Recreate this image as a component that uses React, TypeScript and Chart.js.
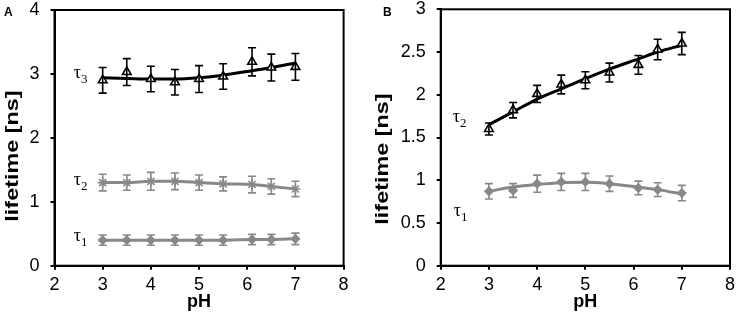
import React, { useEffect, useRef } from "react";
import { Chart, registerables } from "chart.js";
Chart.register(...registerables);

// ---- data ----
const phValues = [3, 3.5, 4, 4.5, 5, 5.5, 6.1, 6.5, 7];

// Panel A
const aTau3 = [2.9, 3.03, 2.92, 2.87, 2.92, 2.96, 3.19, 3.1, 3.11];
const aTau3Err = [0.2, 0.21, 0.2, 0.2, 0.21, 0.2, 0.22, 0.21, 0.21];
const aTau3Fit = [2.94, 2.93, 2.92, 2.92, 2.94, 2.98, 3.05, 3.1, 3.17];
const aTau2 = [1.3, 1.3, 1.32, 1.32, 1.3, 1.28, 1.27, 1.24, 1.2];
const aTau2Err = [0.13, 0.12, 0.14, 0.13, 0.12, 0.11, 0.13, 0.12, 0.12];
const aTau1 = [0.4, 0.4, 0.4, 0.4, 0.4, 0.4, 0.41, 0.41, 0.42];
const aTau1Err = [0.08, 0.08, 0.08, 0.08, 0.08, 0.08, 0.08, 0.08, 0.09];

// Panel B
const bTau2 = [1.6, 1.82, 2.01, 2.12, 2.17, 2.26, 2.35, 2.53, 2.6];
const bTau2Err = [0.07, 0.09, 0.1, 0.11, 0.1, 0.11, 0.11, 0.12, 0.13];
const bTau2Fit = [1.65, 1.8, 1.95, 2.07, 2.19, 2.3, 2.42, 2.5, 2.58];
const bTau1 = [0.87, 0.88, 0.96, 0.98, 0.98, 0.96, 0.91, 0.89, 0.85];
const bTau1Err = [0.09, 0.08, 0.1, 0.1, 0.1, 0.09, 0.08, 0.08, 0.09];
const bTau1Fit = [0.87, 0.92, 0.95, 0.97, 0.975, 0.96, 0.92, 0.89, 0.84];

const aYTicks = [0, 1, 2, 3, 4];
const bYTicks = [0, 0.5, 1, 1.5, 2, 2.5, 3];
const xTicks = [2, 3, 4, 5, 6, 7, 8];

const X_TITLE = "pH";
const Y_TITLE = "lifetime [ns]";

const BLACK = "#000000";
const GRAY = "#888888";
const SANS = "'Liberation Sans', Arial, sans-serif";
const SERIF = "'Liberation Serif', 'Times New Roman', serif";

const pts = (ys: number[]) => ys.map((y, i) => ({ x: phValues[i], y }));

const errorBarPlugin = {
  id: "errorBars",
  afterDatasetsDraw(chart: any) {
    const { ctx, scales } = chart;
    chart.data.datasets.forEach((ds: any, di: number) => {
      if (!ds.errors) return;
      if (!chart.isDatasetVisible(di)) return;
      ctx.save();
      ctx.strokeStyle = ds.borderColor;
      ctx.lineWidth = 1.6;
      ds.data.forEach((p: any, i: number) => {
        const e = ds.errors[i];
        const x = scales.x.getPixelForValue(p.x);
        const yTop = scales.y.getPixelForValue(p.y + e);
        const yBot = scales.y.getPixelForValue(p.y - e);
        ctx.beginPath();
        ctx.moveTo(x, yTop);
        ctx.lineTo(x, yBot);
        ctx.moveTo(x - 4, yTop);
        ctx.lineTo(x + 4, yTop);
        ctx.moveTo(x - 4, yBot);
        ctx.lineTo(x + 4, yBot);
        ctx.stroke();
      });
      ctx.restore();
    });
  },
};

const framePlugin = {
  id: "frame",
  afterDraw(chart: any) {
    const { ctx, chartArea: a } = chart;
    ctx.save();
    ctx.strokeStyle = BLACK;
    ctx.lineWidth = 2;
    ctx.strokeRect(a.left, a.top, a.right - a.left, a.bottom - a.top);
    ctx.restore();
  },
};

const tauLabelPlugin = {
  id: "tauLabels",
  afterDraw(chart: any, _args: any, opts: any) {
    const { ctx, scales } = chart;
    (opts.labels || []).forEach((l: any) => {
      const x = scales.x.getPixelForValue(l.x);
      const y = scales.y.getPixelForValue(l.y);
      ctx.save();
      ctx.fillStyle = BLACK;
      ctx.textBaseline = "alphabetic";
      ctx.textAlign = "left";
      ctx.font = `18px ${SERIF}`;
      ctx.fillText("τ", x, y + 4);
      const w = ctx.measureText("τ").width;
      ctx.font = `13px ${SERIF}`;
      ctx.fillText(l.sub, x + w, y + 9);
      ctx.restore();
    });
  },
};

const yTitlePlugin = {
  id: "yTitle",
  afterDraw(chart: any, _args: any, opts: any) {
    const { ctx } = chart;
    ctx.save();
    ctx.translate(opts.x, opts.y);
    ctx.rotate(-Math.PI / 2);
    ctx.scale(1.3, 1);
    ctx.fillStyle = BLACK;
    ctx.font = `bold 18px ${SANS}`;
    ctx.textAlign = "center";
    ctx.textBaseline = "middle";
    ctx.fillText(Y_TITLE, 0, 0);
    ctx.restore();
  },
};

function makeConfig(
  datasets: any[],
  yMax: number,
  yTicks: number[],
  padRight: number,
  padTop: number,
  yWidth: number,
  titlePos: { x: number; y: number },
  labels: any[]
) {
  return {
    type: "scatter" as const,
    data: { datasets },
    plugins: [errorBarPlugin, framePlugin, tauLabelPlugin, yTitlePlugin],
    options: {
      animation: false,
      responsive: false,
      maintainAspectRatio: false,
      layout: { padding: { left: 0, right: padRight, top: padTop, bottom: 0 } },
      plugins: {
        legend: { display: false },
        tooltip: { enabled: false },
        tauLabels: { labels },
        yTitle: titlePos,
      },
      scales: {
        x: {
          type: "linear",
          min: 2,
          max: 8,
          afterBuildTicks: (s: any) => {
            s.ticks = xTicks.map((v) => ({ value: v }));
          },
          ticks: {
            color: BLACK,
            font: { family: SANS, size: 18 },
            padding: 5,
            maxRotation: 0,
            callback: (v: any) => String(v),
          },
          grid: { drawOnChartArea: false, drawTicks: true, tickLength: 4, color: BLACK, lineWidth: 2 },
          border: { color: BLACK, width: 2 },
          title: {
            display: true,
            text: X_TITLE,
            color: BLACK,
            font: { family: SANS, size: 18, weight: "bold" },
            padding: { top: 0, bottom: 4 },
          },
          afterFit: (s: any) => {
            s.height = 51.3;
            s.paddingLeft = 0;
            s.paddingRight = 0;
          },
        },
        y: {
          type: "linear",
          min: 0,
          max: yMax,
          afterBuildTicks: (s: any) => {
            s.ticks = yTicks.map((v) => ({ value: v }));
          },
          ticks: {
            color: BLACK,
            font: { family: SANS, size: 18 },
            padding: 11,
            callback: (v: any) => String(v),
          },
          grid: { drawOnChartArea: false, drawTicks: true, tickLength: 4, color: BLACK, lineWidth: 2 },
          border: { color: BLACK, width: 2 },
          title: { display: false },
          afterFit: (s: any) => {
            s.width = yWidth;
            s.paddingTop = 0;
            s.paddingBottom = 0;
          },
        },
      },
    },
  };
}

function markerSet(values: number[], errs: number[], color: string, style: string, radius: number, fill: string, line: boolean) {
  return {
    data: pts(values),
    errors: errs,
    borderColor: color,
    backgroundColor: fill,
    pointStyle: style,
    pointRadius: radius,
    pointBorderWidth: 1.6,
    pointBorderColor: color,
    pointBackgroundColor: fill,
    showLine: line,
    borderWidth: 3,
    tension: 0.4,
    cubicInterpolationMode: "monotone",
  };
}

function fitSet(values: number[], color: string) {
  return {
    data: pts(values),
    borderColor: color,
    backgroundColor: color,
    pointRadius: 0,
    showLine: true,
    borderWidth: 3,
    tension: 0.4,
    cubicInterpolationMode: "monotone",
  };
}

function ChartCanvas({ config, width }: { config: any; width: number }) {
  const ref = useRef<HTMLCanvasElement | null>(null);
  useEffect(() => {
    if (!ref.current) return;
    const chart = new Chart(ref.current, config);
    return () => chart.destroy();
  }, []);
  return <canvas ref={ref} width={width} height={317} style={{ display: "block", width, height: 317 }} />;
}

export default function App() {
  const configA = makeConfig(
    [
      markerSet(aTau3, aTau3Err, BLACK, "triangle", 5, "#ffffff", false),
      markerSet(aTau2, aTau2Err, GRAY, "star", 5, GRAY, true),
      markerSet(aTau1, aTau1Err, GRAY, "rectRot", 4, GRAY, true),
      fitSet(aTau3Fit, BLACK),
    ],
    4,
    aYTicks,
    368 - 343.6,
    10,
    54.5,
    { x: 13, y: 156 },
    [
      { sub: "3", x: 2.4, y: 3.0 },
      { sub: "2", x: 2.4, y: 1.32 },
      { sub: "1", x: 2.4, y: 0.45 },
    ]
  );
  const configB = makeConfig(
    [
      markerSet(bTau2, bTau2Err, BLACK, "triangle", 5, "#ffffff", false),
      markerSet(bTau1, bTau1Err, GRAY, "rectRot", 4, GRAY, false),
      fitSet(bTau2Fit, BLACK),
      fitSet(bTau1Fit, GRAY),
    ],
    3,
    bYTicks,
    369 - 362,
    9.3,
    72.7,
    { x: 15.5, y: 159 },
    [
      { sub: "2", x: 2.25, y: 1.73 },
      { sub: "1", x: 2.27, y: 0.63 },
    ]
  );
  const letter: React.CSSProperties = {
    position: "absolute",
    top: 5,
    fontFamily: SANS,
    fontWeight: "bold",
    fontSize: 12,
    lineHeight: "14px",
    color: BLACK,
  };
  return (
    <div style={{ position: "fixed", left: 0, top: 0, width: 737, height: 317, background: "#fff" }}>
      <div style={{ position: "absolute", left: 0, top: 0 }}>
        <ChartCanvas config={configA} width={368} />
      </div>
      <div style={{ position: "absolute", left: 368, top: 0 }}>
        <ChartCanvas config={configB} width={369} />
      </div>
      <div style={{ ...letter, left: 4 }}>A</div>
      <div style={{ ...letter, left: 383 }}>B</div>
    </div>
  );
}
